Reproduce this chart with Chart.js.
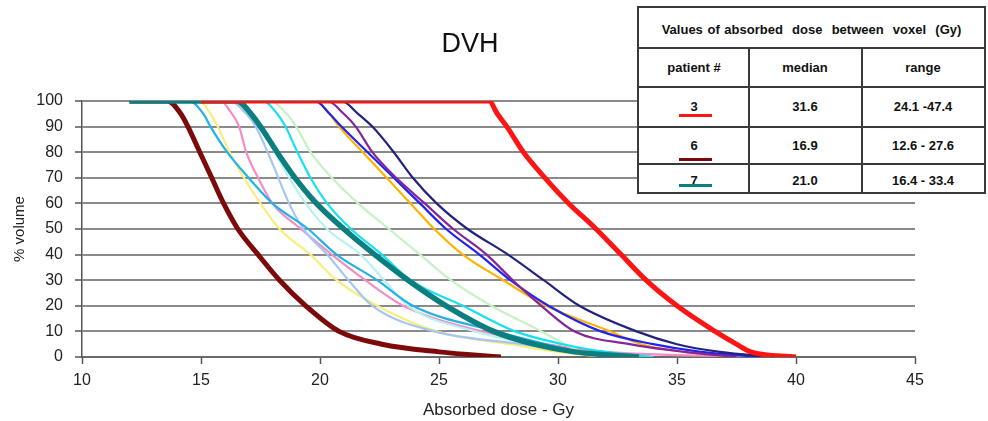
<!DOCTYPE html>
<html>
<head>
<meta charset="utf-8">
<script src="https://cdn.jsdelivr.net/npm/chart.js@4.4.1/dist/chart.umd.min.js"></script>
<style>
    body { margin: 0; background: #fff; }
    #wrap { position: relative; width: 988px; height: 421px; }
    #titolo {
        position: absolute; left: 420px; top: 28px; width: 100px;
        text-align: center; font: 27px "Liberation Sans", Arial, sans-serif; color: #111;
    }
    #tabella {
        position: absolute; left: 637px; top: 6px; width: 349px; height: 188px;
        box-sizing: border-box; border: 2px solid #3a3a3a; background: #fff;
        font: bold 13px "Liberation Sans", Arial, sans-serif; color: #111;
    }
    #tabella .riga { position: absolute; left: 0; right: 0; height: 2px; background: #3a3a3a; }
    #tabella .col { position: absolute; width: 2px; background: #3a3a3a; }
    #tabella .cella { position: absolute; text-align: center; line-height: 14px; white-space: pre; }
    .linea { position: absolute; width: 33px; height: 3px; }
</style>
</head>
<body>
<div id="wrap">
    <canvas id="dvh" width="988" height="421"></canvas>
    <div id="titolo">DVH</div>
    <div id="tabella"></div>
</div>
<script>
// livelli di volume (%) comuni a tutte le curve
const volumeLevels = [100, 100, 95, 90, 80, 70, 60, 50, 40, 30, 20, 10, 5, 2, 0];

// dose (Gy) per ogni livello di volume
const dosePatient3 = [15.0, 27.1, 27.45, 27.85, 28.55, 29.45, 30.45, 31.6, 32.65, 33.7, 35.0, 36.6, 37.5, 38.1, 40.0];
const dosePatient6 = [12.0, 13.6, 14.15, 14.45, 14.95, 15.45, 15.95, 16.55, 17.4, 18.3, 19.4, 20.8, 22.6, 25.0, 27.6];
const dosePatient7 = [12.0, 16.5, 17.1, 17.5, 18.2, 18.95, 19.85, 21.0, 22.3, 23.7, 25.3, 27.3, 29.0, 30.7, 33.4];
const doseNavy = [12.0, 20.9, 21.6, 22.2, 23.1, 23.9, 24.9, 26.2, 27.9, 29.4, 30.9, 33.3, 35.0, 36.8, 39.0];
const dosePurple = [12.0, 20.3, 21.0, 21.5, 22.2, 23.2, 24.4, 25.6, 27.0, 28.1, 29.3, 30.7, 33.0, 35.3, 37.5];
const doseBlue = [12.0, 19.8, 20.4, 20.9, 22.0, 23.1, 24.2, 25.3, 26.7, 28.0, 29.6, 31.8, 34.0, 36.0, 38.5];
const doseOrange = [12.0, 19.8, 20.4, 20.8, 21.8, 22.8, 23.8, 24.8, 26.0, 27.7, 29.5, 32.2, 33.5, 35.3, 37.5];
const doseCyan = [12.0, 17.6, 18.2, 18.55, 19.05, 19.6, 20.3, 21.3, 22.6, 23.8, 26.0, 28.2, 30.2, 32.0, 34.0];
const doseSky = [12.0, 14.5, 15.1, 15.4, 16.1, 17.0, 18.0, 19.5, 20.7, 22.4, 23.9, 27.4, 29.5, 31.0, 33.5];
const doseGreen = [12.0, 17.9, 18.6, 19.0, 19.6, 20.5, 21.6, 22.9, 24.2, 25.5, 27.2, 29.3, 30.3, 31.0, 32.0];
const dosePaleCyan = [12.0, 16.5, 17.1, 17.5, 18.1, 18.7, 19.4, 20.3, 21.7, 22.7, 23.7, 26.5, 29.0, 31.0, 33.0];
const doseSteel = [12.0, 16.2, 16.9, 17.3, 17.8, 18.25, 18.7, 19.3, 20.3, 21.2, 22.2, 24.8, 28.5, 30.5, 32.0];
const dosePink = [12.0, 15.8, 16.3, 16.6, 16.9, 17.4, 18.0, 19.2, 20.5, 21.9, 23.5, 26.8, 29.5, 32.0, 39.5];
const doseYellow = [12.0, 14.9, 15.4, 15.7, 16.2, 16.8, 17.5, 18.3, 19.6, 20.7, 22.4, 24.9, 28.0, 30.0, 32.0];

// tabella
const tableTitle = "Values of absorbed  dose  between  voxel  (Gy)";
const tableHeaders = ["patient #", "median", "range"];
const patientIds = ["3", "6", "7"];
const medianDose = ["31.6", "16.9", "21.0"];
const rangeDose = ["24.1 -47.4", "12.6 - 27.6", "16.4 - 33.4"];

const xTicks = [10, 15, 20, 25, 30, 35, 40, 45];
const yTicks = [0, 10, 20, 30, 40, 50, 60, 70, 80, 90, 100];

const curva = (dose, colore, spessore) => ({
    data: dose.map((d, i) => ({ x: d, y: volumeLevels[i] })),
    borderColor: colore,
    borderWidth: spessore,
    pointRadius: 0,
    cubicInterpolationMode: "monotone",
    fill: false
});

const patientColors = ["#ff1414", "#7d0a0a", "#0b7f7f"];

const datasets = [
    curva(dosePatient3, patientColors[0], 5),
    curva(dosePatient7, patientColors[2], 5.5),
    curva(dosePatient6, patientColors[1], 5),
    curva(doseNavy, "#23237e", 2.2),
    curva(dosePurple, "#85259a", 2.2),
    curva(doseBlue, "#2222f2", 2.2),
    curva(doseOrange, "#ffb300", 2.2),
    curva(doseCyan, "#14e2ef", 2.2),
    curva(doseSky, "#22b2e8", 2.2),
    curva(doseGreen, "#c6f2c6", 2.2),
    curva(dosePaleCyan, "#b6f2f2", 2.2),
    curva(doseSteel, "#a6c6f2", 2.2),
    curva(dosePink, "#f48cc6", 2.2),
    curva(doseYellow, "#f6ef7c", 2.2)
];

const font = "'Liberation Sans', Arial, sans-serif";

new Chart(document.getElementById("dvh").getContext("2d"), {
    type: "line",
    data: { datasets: datasets },
    options: {
        responsive: false,
        animation: false,
        layout: { padding: { top: 101, right: 73, left: 0, bottom: 0 } },
        plugins: { legend: { display: false }, tooltip: { enabled: false } },
        scales: {
            x: {
                type: "linear",
                min: 10, max: 45,
                afterBuildTicks: (s) => { s.ticks = xTicks.map(v => ({ value: v })); },
                afterFit: (s) => { s.height = 64; },
                ticks: { color: "#222", padding: 7, font: { family: font, size: 16 } },
                grid: { drawOnChartArea: false, tickLength: 7, tickColor: "#555", tickWidth: 1.5 },
                border: { display: true, color: "#6a6a6a", width: 2 },
                title: { display: true, text: "Absorbed dose - Gy", color: "#222",
                    padding: { top: 0, bottom: 0 }, font: { family: font, size: 17 } }
            },
            y: {
                min: 0, max: 100,
                afterBuildTicks: (s) => { s.ticks = yTicks.map(v => ({ value: v })); },
                afterFit: (s) => { s.width = 82; },
                ticks: { color: "#222", padding: 12, font: { family: font, size: 16 } },
                grid: { color: "#8a8a8a", lineWidth: 2, tickLength: 7, tickColor: "#555", tickWidth: 1.5 },
                border: { display: true, color: "#555", width: 1.5 },
                title: { display: true, text: "% volume", color: "#222",
                    padding: { top: 11, bottom: 0 }, font: { family: font, size: 15 } }
            }
        }
    }
});

// costruzione della tabella dai dati (coordinate relative al bordo interno)
const tabella = document.getElementById("tabella");
const ox = 639, oy = 8;
const bordiRighe = [48, 87, 127, 164];
const bordiColonne = [749, 862];
const centriColonne = [694, 805, 923];
const centriRighe = [68, 107, 146, 181];
const yLinee = [114, 158, 184];

let html = '';
bordiRighe.forEach(y => { html += '<div class="riga" style="top:' + (y - 1 - oy) + 'px"></div>'; });
bordiColonne.forEach(x => {
    html += '<div class="col" style="left:' + (x - 1 - ox) + 'px;top:' + (48 - oy) + 'px;bottom:0"></div>';
});
const cella = (testo, cx, cy, larghezza) =>
    '<div class="cella" style="left:' + (cx - larghezza / 2 - ox) + 'px;top:' + (cy - 7 - oy) +
    'px;width:' + larghezza + 'px">' + testo + '</div>';

html += '<div class="cella" style="left:0;right:0;top:' + (30 - 7 - oy) + 'px;word-spacing:1px">' + tableTitle + '</div>';
tableHeaders.forEach((h, j) => { html += cella(h, centriColonne[j], centriRighe[0], 110); });
patientIds.forEach((id, i) => {
    const cy = centriRighe[i + 1];
    html += cella(id, centriColonne[0], cy, 110);
    html += '<div class="linea" style="left:' + (679 - ox) + 'px;top:' + (yLinee[i] - oy) +
        'px;background:' + patientColors[i] + '"></div>';
    html += cella(medianDose[i], centriColonne[1], cy, 110);
    html += cella(rangeDose[i], centriColonne[2], cy, 120);
});
tabella.innerHTML = html;
</script>
</body>
</html>
